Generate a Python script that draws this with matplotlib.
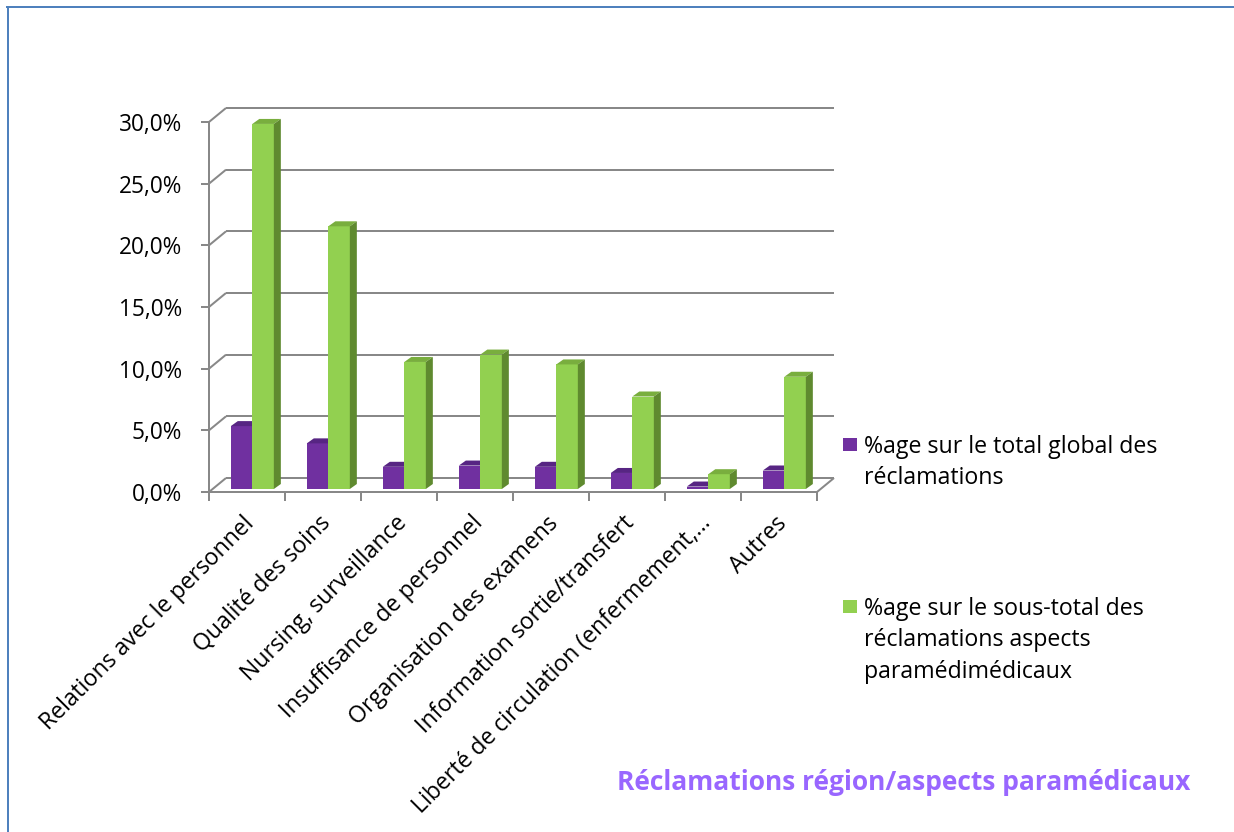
import matplotlib
matplotlib.use("Agg")
import matplotlib.pyplot as plt
from matplotlib.transforms import Affine2D, IdentityTransform, ScaledTranslation
from matplotlib.patches import Polygon, Rectangle
from matplotlib.lines import Line2D
import numpy as np

# ---- data -------------------------------------------------------------
categories = [
    "Relations avec le personnel",
    "Qualité des soins",
    "Nursing, surveillance",
    "Insuffisance de personnel",
    "Organisation des examens",
    "Information sortie/transfert",
    "Liberté de circulation (enfermement,…",
    "Autres",
]
share_global = [5.1, 3.7, 1.8, 1.9, 1.8, 1.3, 0.2, 1.5]          # % of all complaints
share_subtotal = [29.6, 21.3, 10.3, 10.9, 10.1, 7.5, 1.2, 9.1]   # % of paramedical complaints
y_ticks = [0, 5, 10, 15, 20, 25, 30]
series_labels = [
    ["%age sur le total global des", "réclamations"],
    ["%age sur le sous-total des", "réclamations aspects", "paramédimédicaux"],
]
title = "Réclamations région/aspects paramédicaux"

# ---- style ------------------------------------------------------------
FONT = "Open Sans"
GRID = "#888888"
PURPLE = "#7030A0"
PURPLE_TOP = "#572583"
PURPLE_SIDE = "#4E1F75"
GREEN = "#92D050"
GREEN_TOP = "#79AE3E"
GREEN_SIDE = "#5F8A2F"
TITLE_COLOR = "#9966FF"
FRAME = "#4F81BD"

W, H = 1234, 832
fig = plt.figure(figsize=(W / 100, H / 100), dpi=100)
fig.patch.set_facecolor("white")

# front plane of the 3-D box (pixels -> figure fraction)
x0, x1 = 209, 817
y0, y1 = 492, 122
ax = fig.add_axes([x0 / W, 1 - y0 / H, (x1 - x0) / W, (y0 - y1) / H])
ax.set_xlim(0, len(categories))
ax.set_ylim(0, 30)
ax.patch.set_visible(False)

px = 72 / fig.dpi  # one pixel in points
lw = 2 * px

# walls / floor depth (pixels)
WALL_DX, WALL_DY = 17, 14
BAR_DX, BAR_DY = 4, 3        # bars sit slightly behind the front plane
CAP_DX, CAP_DY = 7, 5        # bar depth

def proj(x, y, ddx=0.0, ddy=0.0):
    p = ax.transData.transform((x, y))
    return (p[0] + ddx, p[1] + ddy)

def seg(p, q, **kw):
    ax.add_line(Line2D([p[0], q[0]], [p[1], q[1]], transform=IdentityTransform(),
                       color=GRID, lw=lw, clip_on=False, solid_capstyle="butt", **kw))

# back wall gridlines and left wall diagonals
for v in y_ticks:
    seg(proj(0, v, WALL_DX, WALL_DY), proj(len(categories), v, WALL_DX, WALL_DY), zorder=1)
    seg(proj(0, v), proj(0, v, WALL_DX, WALL_DY), zorder=1)
# right floor edge
seg(proj(len(categories), 0), proj(len(categories), 0, WALL_DX, WALL_DY), zorder=1)

# front axes (spines + ticks)
for s in ("top", "right"):
    ax.spines[s].set_visible(False)
for s in ("left", "bottom"):
    ax.spines[s].set_color(GRID)
    ax.spines[s].set_linewidth(lw)
    ax.spines[s].set_zorder(2)

ax.set_yticks(y_ticks)
ax.set_yticklabels([f"{v:.1f}".replace(".", ",") + "%" for v in y_ticks])
ax.tick_params(axis="y", direction="out", length=8 * px, width=lw, color=GRID,
               pad=19 * px, labelsize=16.3, labelcolor="black")

ax.set_xticks(np.arange(len(categories) + 1))
ax.set_xticklabels([])
ax.set_xticks(np.arange(len(categories)) + 0.5, minor=True)
ax.set_xticklabels(categories, minor=True, rotation=45, ha="right", va="center",
                   rotation_mode="anchor")
ax.tick_params(axis="x", which="major", direction="out", length=9 * px, width=lw, color=GRID)
ax.tick_params(axis="x", which="minor", length=0, pad=28 * px, labelsize=16.6)
shift = ScaledTranslation(4 / fig.dpi, 0, fig.dpi_scale_trans)
for lab in ax.get_xticklabels(minor=True):
    lab.set_transform(lab.get_transform() + shift)

for lab in ax.get_yticklabels() + ax.get_xticklabels(minor=True):
    lab.set_fontfamily(FONT)

# ---- bars -------------------------------------------------------------
bw = 0.283
xc = np.arange(len(categories))
bar_tr = ax.transData + Affine2D().translate(BAR_DX, BAR_DY)

def draw_series(centers, values, front, top, side, z):
    bars = ax.bar(centers, values, width=bw, color=front, linewidth=0,
                  transform=bar_tr, zorder=z, clip_on=False)
    for rect, v in zip(bars, values):
        xl = rect.get_x()
        xr = xl + rect.get_width()
        bl = proj(xl, v, BAR_DX, BAR_DY)
        br = proj(xr, v, BAR_DX, BAR_DY)
        bb = proj(xr, 0, BAR_DX, BAR_DY)
        top_poly = [bl, br, (br[0] + CAP_DX, br[1] + CAP_DY), (bl[0] + CAP_DX, bl[1] + CAP_DY)]
        side_poly = [bb, br, (br[0] + CAP_DX, br[1] + CAP_DY), (bb[0] + CAP_DX, bb[1] + CAP_DY)]
        ax.add_patch(Polygon(top_poly, closed=True, transform=IdentityTransform(),
                             facecolor=top, edgecolor="none", zorder=z, clip_on=False))
        ax.add_patch(Polygon(side_poly, closed=True, transform=IdentityTransform(),
                             facecolor=side, edgecolor="none", zorder=z, clip_on=False))
    return bars

draw_series(xc + 0.376, share_global, PURPLE, PURPLE_TOP, PURPLE_SIDE, 3)
draw_series(xc + 0.659, share_subtotal, GREEN, GREEN_TOP, GREEN_SIDE, 4)

# ---- legend -----------------------------------------------------------
legend_colors = [PURPLE, GREEN]
legend_tops = [438, 600]
first_baselines = [453, 615]
line_step = 31.5
for col, top_px, base_px, lines in zip(legend_colors, legend_tops, first_baselines, series_labels):
    fig.add_artist(Rectangle((843 / W, 1 - (top_px + 13) / H), 14 / W, 13 / H,
                             transform=fig.transFigure, facecolor=col, edgecolor="none"))
    for k, line in enumerate(lines):
        fig.text(864 / W, 1 - (base_px + k * line_step) / H, line, fontsize=16.7,
                 fontfamily=FONT, va="baseline", ha="left", color="black")

# ---- title ------------------------------------------------------------
fig.text(617 / W, 1 - 790 / H, title, fontsize=19, fontweight="bold",
         fontfamily=FONT, color=TITLE_COLOR, va="baseline", ha="left")

# ---- frame ------------------------------------------------------------
fig.add_artist(Line2D([7 / W, 1], [1 - 7 / H, 1 - 7 / H], transform=fig.transFigure,
                      color=FRAME, lw=2 * px))
fig.add_artist(Line2D([7.5 / W, 7.5 / W], [0, 1 - 7 / H], transform=fig.transFigure,
                      color=FRAME, lw=2 * px))

fig.savefig("out.png", dpi=100)
